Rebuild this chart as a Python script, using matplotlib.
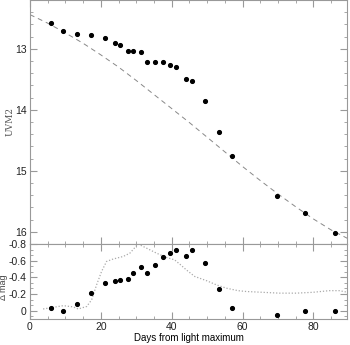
import matplotlib
matplotlib.use("Agg")
import matplotlib.pyplot as plt
from matplotlib.ticker import MultipleLocator, AutoMinorLocator

plt.rcParams['axes.unicode_minus'] = False
plt.rcParams['font.family'] = ['Liberation Sans Narrow', 'Liberation Sans', 'DejaVu Sans']

# observed UVM2 light curve
days = [5.9, 9.4, 13.3, 17.3, 21.3, 23.9, 25.4, 27.8, 29.2, 31.3, 33.1, 35.2,
        37.5, 39.5, 41.1, 43.9, 45.7, 49.4, 53.3, 57.1, 69.6, 77.5, 86.1]
uvm2 = [12.57, 12.71, 12.76, 12.78, 12.82, 12.90, 12.94, 13.04, 13.03, 13.06,
        13.21, 13.21, 13.22, 13.26, 13.30, 13.50, 13.52, 13.86, 14.36, 14.76,
        15.41, 15.70, 16.02]
dmag = [-0.03, 0.0, -0.08, -0.21, -0.33, -0.35, -0.37, -0.38, -0.45, -0.52,
        -0.45, -0.55, -0.64, -0.69, -0.73, -0.66, -0.73, -0.57, -0.26, -0.03,
        0.05, 0.01, 0.01]

# template curve (dashed)
tmpl_days = [0, 5, 10, 15, 20, 25, 30, 35, 40, 45, 50, 55, 60, 65, 70, 75, 80, 85, 90]
tmpl_mag = [12.44, 12.58, 12.74, 12.91, 13.10, 13.30, 13.52, 13.75, 13.98, 14.21,
            14.45, 14.69, 14.93, 15.16, 15.38, 15.59, 15.79, 15.97, 16.12]

# comparison difference curve (dotted)
comp_days = [3.7, 6.6, 9.4, 12.2, 13.6, 16.0, 17.4, 18.8, 20.2, 21.6, 23.5, 26.3,
             28.2, 30.5, 32.9, 35.7, 38.4, 40.8, 42.5, 44.1, 46.5, 49.8, 52.6,
             55.4, 58.7, 61.0, 65.7, 70.4, 75.1, 79.8, 84.5, 87.3, 89.7]
comp_dmag = [-0.02, -0.04, -0.06, -0.045, -0.02, -0.05, -0.13, -0.31, -0.47, -0.59,
             -0.62, -0.65, -0.69, -0.80, -0.75, -0.69, -0.64, -0.61, -0.55, -0.49,
             -0.41, -0.36, -0.31, -0.27, -0.24, -0.23, -0.22, -0.21, -0.21, -0.22,
             -0.24, -0.24, -0.22]

gray = '#999999'

fig = plt.figure(figsize=(3.5, 3.45), dpi=100)
ax1 = fig.add_axes([0.0857, 0.2928, 0.906, 0.7072])
ax2 = fig.add_axes([0.0857, 0.0754, 0.906, 0.2174])

ax1.plot(tmpl_days, tmpl_mag, color='#888888', ls=(0, (5, 4)), lw=0.7)
ax1.plot(days, uvm2, 'o', color='black', ms=2.7)
ax1.set_xlim(0, 89.5)
ax1.set_ylim(16.2, 12.2)
ax1.set_yticks([13, 14, 15, 16])
ax1.yaxis.set_minor_locator(MultipleLocator(0.2))
ax1.set_ylabel('UVM2', fontsize=6.5, color='#555555', family='DejaVu Serif', va='center')
ax1.yaxis.set_label_coords(-0.063, 0.5)
ax1.tick_params(labelbottom=False)

ax2.plot(comp_days, comp_dmag, color='#aaaaaa', ls=(0, (1, 1.5)), lw=0.9)
ax2.plot(days, dmag, 'o', color='black', ms=2.7)
ax2.set_xlim(0, 89.5)
ax2.set_ylim(0.1, -0.8)
ax2.set_yticks([-0.8, -0.6, -0.4, -0.2, 0])
ax2.set_yticklabels(['-0.8', '-0.6', '-0.4', '-0.2', '0'])
ax2.yaxis.set_minor_locator(AutoMinorLocator(3))
ax2.set_ylabel('Δ mag', fontsize=6.5, color='#444444', va='center',
               family=['Liberation Sans', 'DejaVu Sans'])
ax2.yaxis.set_label_coords(-0.082, 0.42)
ax2.set_xlabel('Days from light maximum', fontsize=7, va='center',
               family=['Liberation Sans', 'DejaVu Sans'])
ax2.xaxis.set_label_coords(0.5, -0.25)

for ax in (ax1, ax2):
    ax.xaxis.set_major_locator(MultipleLocator(20))
    ax.xaxis.set_minor_locator(MultipleLocator(5))
    ax.tick_params(which='both', direction='in', top=True, right=True,
                   color=gray, labelsize=7.5, labelcolor='#222222')
    ax.tick_params(which='major', length=5, width=0.8, pad=2.5)
    ax.tick_params(which='minor', length=2.5, width=0.6)
    for s in ax.spines.values():
        s.set_color(gray)
        s.set_linewidth(0.8)

fig.savefig('out.png', dpi=100)
